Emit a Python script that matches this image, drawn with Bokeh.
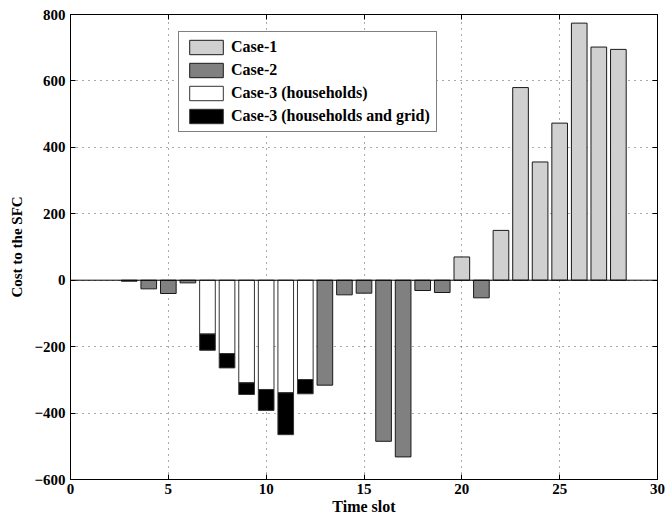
from bokeh.plotting import figure
from bokeh.models import (ColumnDataSource, Legend, LegendItem, Span, LinearAxis,
                          Range1d, FixedTicker, CustomJSTickFormatter)
from bokeh.embed import file_html
from bokeh.resources import INLINE

# ---- data ----
case1_slots = [20, 22, 23, 24, 25, 26, 27, 28]
case1_vals = [70, 150, 580, 356, 473, 774, 702, 695]

case2_slots = [3, 4, 5, 6, 13, 14, 15, 16, 17, 18, 19, 21]
case2_vals = [-3, -26, -40, -8, -316, -44, -39, -485, -532, -31, -37, -53]

case3_slots = [7, 8, 9, 10, 11, 12]
case3_households = [-162, -221, -309, -329, -339, -299]
case3_grid = [-211, -264, -344, -392, -465, -342]

x_ticks = [0, 5, 10, 15, 20, 25, 30]
y_ticks = [-600, -400, -200, 0, 200, 400, 600, 800]

FONT = "Liberation Serif"

p = figure(width=668, height=517, output_backend="svg", toolbar_location=None,
           x_range=Range1d(0, 30), y_range=Range1d(-600, 800),
           min_border_left=70, min_border_right=11, min_border_top=14,
           min_border_bottom=38)
p.outline_line_color = "black"
p.outline_line_width = 1
p.background_fill_color = "white"
p.border_fill_color = "white"

minus_fmt = CustomJSTickFormatter(code="return tick < 0 ? '\\u2212' + Math.abs(tick) : String(tick);")

for ax in [p.xaxis[0], p.yaxis[0]]:
    ax.major_label_text_font = FONT
    ax.major_label_text_font_style = "bold"
    ax.major_label_text_font_size = "15px"
    ax.major_label_text_color = "black"
    ax.axis_label_text_font = FONT
    ax.axis_label_text_font_style = "bold"
    ax.axis_label_text_color = "black"
    ax.major_tick_in = 5
    ax.major_tick_out = 0
    ax.minor_tick_in = 0
    ax.minor_tick_out = 0
    ax.axis_line_color = "black"
    ax.major_tick_line_color = "black"
    ax.major_label_standoff = 4
    ax.axis_label_standoff = 1

p.yaxis[0].axis_label_standoff = 6
p.yaxis[0].major_label_standoff = 5
p.xaxis[0].axis_label_text_font_size = "16px"
p.yaxis[0].axis_label_text_font_size = "15px"
p.xaxis[0].ticker = FixedTicker(ticks=x_ticks)
p.yaxis[0].ticker = FixedTicker(ticks=y_ticks)
p.yaxis[0].formatter = minus_fmt
p.xaxis[0].axis_label = "Time slot"
p.yaxis[0].axis_label = "Cost to the SFC"

for loc, ticks in [("above", x_ticks), ("right", y_ticks)]:
    ax = LinearAxis(ticker=FixedTicker(ticks=ticks))
    ax.major_label_text_font_size = "1px"
    ax.major_label_text_color = None
    ax.major_label_standoff = 0
    ax.major_tick_in = 5
    ax.major_tick_out = 0
    ax.minor_tick_in = 0
    ax.minor_tick_out = 0
    ax.axis_line_color = "black"
    p.add_layout(ax, loc)

p.xgrid.ticker = FixedTicker(ticks=x_ticks)
p.ygrid.ticker = FixedTicker(ticks=y_ticks)
for g in [p.xgrid[0], p.ygrid[0]]:
    g.grid_line_color = "#555555"
    g.grid_line_dash = "1 5"
    g.grid_line_width = 1

src1 = ColumnDataSource(dict(x=case1_slots, top=case1_vals))
src2 = ColumnDataSource(dict(x=case2_slots, top=case2_vals))
src3 = ColumnDataSource(dict(x=case3_slots, h=case3_households, g=case3_grid))

r1 = p.vbar(x="x", top="top", bottom=0, width=0.8, source=src1,
            fill_color="#d0d0d0", line_color="#1a1a1a", line_width=1)
r2 = p.vbar(x="x", top="top", bottom=0, width=0.8, source=src2,
            fill_color="#808080", line_color="#1a1a1a", line_width=1)
r3 = p.vbar(x="x", top=0, bottom="h", width=0.8, source=src3,
            fill_color="white", line_color="#333333", line_width=1)
r4 = p.vbar(x="x", top="h", bottom="g", width=0.8, source=src3,
            fill_color="black", line_color="#333333", line_width=1)

p.add_layout(Span(location=0, dimension="width", line_color="black", line_width=1))

legend = Legend(items=[
    LegendItem(label="Case-1", renderers=[r1]),
    LegendItem(label="Case-2", renderers=[r2]),
    LegendItem(label="Case-3 (households)", renderers=[r3]),
    LegendItem(label="Case-3 (households and grid)", renderers=[r4]),
], location=(108, 347))
legend.label_text_font = FONT
legend.label_text_font_style = "bold"
legend.label_text_font_size = "16px"
legend.label_text_color = "black"
legend.glyph_width = 42
legend.glyph_height = 18
legend.label_height = 18
legend.spacing = 5
legend.padding = 6
legend.margin = 0
legend.label_standoff = 4
legend.border_line_color = "black"
legend.border_line_width = 1
legend.background_fill_color = "white"
legend.background_fill_alpha = 1
p.add_layout(legend, "center")

open("out.html", "w").write(file_html(p, INLINE))
